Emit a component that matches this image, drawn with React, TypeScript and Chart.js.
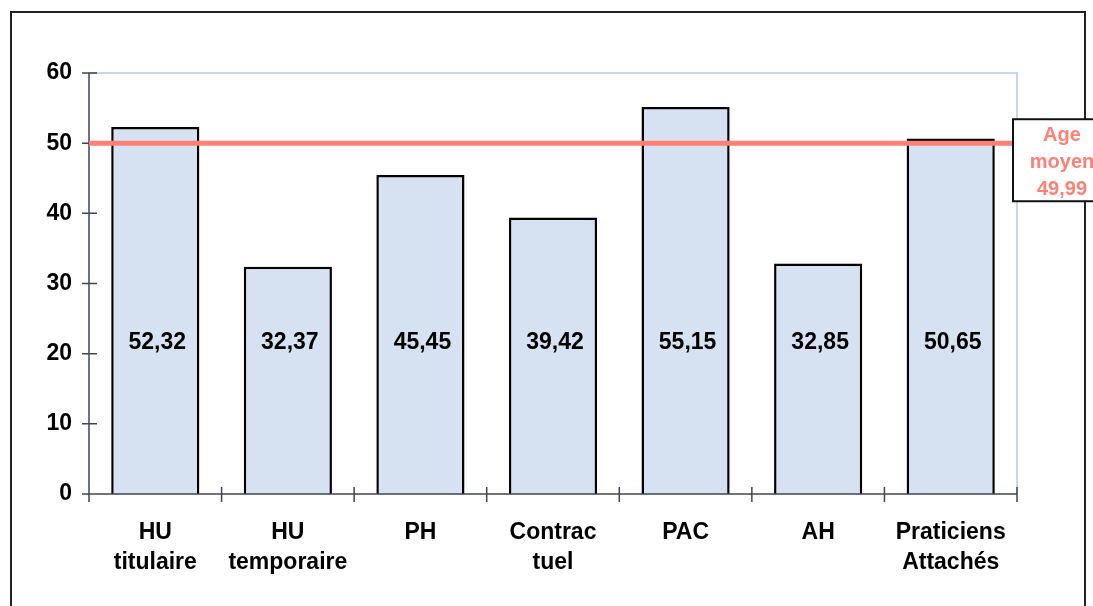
import React, { useEffect, useRef } from 'react';
import { Chart, registerables } from 'chart.js';

Chart.register(...registerables);

// ---- data ----
const categories: string[][] = [
  ['HU', 'titulaire'],
  ['HU', 'temporaire'],
  ['PH'],
  ['Contrac', 'tuel'],
  ['PAC'],
  ['AH'],
  ['Praticiens', 'Attachés'],
];
const ages: number[] = [52.32, 32.37, 45.45, 39.42, 55.15, 32.85, 50.65];
const averageAge = 49.99;
const averageLabel: string[] = ['Age', 'moyen', '49,99'];
const yMin = 0;
const yMax = 60;
const yStep = 10;

// ---- styles ----
const FONT = "'Liberation Sans', Arial, Helvetica, sans-serif";
const BAR_FILL = '#D6E2F1';
const SALMON = '#FF8075';
const AXIS = '#3E4656';
const PLOT_BORDER = '#C6D6EC';
const LABEL_LEVEL = 21.5; // value level at which value labels sit

const fmt = (v: number) => v.toFixed(2).replace('.', ',');

const decorPlugin = {
  id: 'decor',
  beforeDraw(chart: any) {
    const { ctx, width, height } = chart;
    ctx.save();
    ctx.fillStyle = '#ffffff';
    ctx.fillRect(0, 0, width, height);
    ctx.strokeStyle = '#222222';
    ctx.lineWidth = 2;
    ctx.strokeRect(11, 12, width - 8 - 11 - 0, height + 20);
    ctx.restore();
  },
  beforeDatasetsDraw(chart: any) {
    const { ctx, chartArea } = chart;
    ctx.save();
    ctx.strokeStyle = PLOT_BORDER;
    ctx.lineWidth = 2;
    ctx.beginPath();
    ctx.moveTo(chartArea.left, chartArea.top);
    ctx.lineTo(chartArea.right, chartArea.top);
    ctx.lineTo(chartArea.right, chartArea.bottom);
    ctx.stroke();
    ctx.restore();
  },
  afterDatasetsDraw(chart: any) {
    const { ctx, chartArea, scales } = chart;
    const xs = scales.x;
    const ys = scales.y;
    ctx.save();

    // axes
    ctx.strokeStyle = AXIS;
    ctx.lineWidth = 1.5;
    ctx.beginPath();
    ctx.moveTo(chartArea.left, chartArea.top);
    ctx.lineTo(chartArea.left, chartArea.bottom);
    ctx.lineTo(chartArea.right, chartArea.bottom);
    for (let v = yMin; v <= yMax; v += yStep) {
      const y = ys.getPixelForValue(v);
      ctx.moveTo(chartArea.left - 7, y);
      ctx.lineTo(chartArea.left + 8, y);
    }
    const n = categories.length;
    const cw = (chartArea.right - chartArea.left) / n;
    for (let i = 0; i <= n; i++) {
      const x = chartArea.left + i * cw;
      ctx.moveTo(x, chartArea.bottom - 7);
      ctx.lineTo(x, chartArea.bottom + 8);
    }
    ctx.stroke();

    // value labels
    ctx.fillStyle = '#000000';
    ctx.font = `bold 23px ${FONT}`;
    ctx.textAlign = 'center';
    ctx.textBaseline = 'middle';
    const ly = ys.getPixelForValue(LABEL_LEVEL);
    ages.forEach((v, i) => {
      ctx.fillText(fmt(v), xs.getPixelForValue(i) + 2, ly);
    });

    // average line
    const ay = ys.getPixelForValue(averageAge);
    const boxLeft = chartArea.right - 4;
    ctx.strokeStyle = SALMON;
    ctx.lineWidth = 5;
    ctx.beginPath();
    ctx.moveTo(chartArea.left, ay);
    ctx.lineTo(boxLeft, ay);
    ctx.stroke();

    // average label box
    const boxTop = ay - 24;
    const boxW = 96;
    const boxH = 82;
    ctx.fillStyle = '#ffffff';
    ctx.fillRect(boxLeft, boxTop, boxW, boxH);
    ctx.strokeStyle = '#111111';
    ctx.lineWidth = 2;
    ctx.strokeRect(boxLeft, boxTop, boxW, boxH);
    ctx.fillStyle = SALMON;
    ctx.font = `bold 20px ${FONT}`;
    averageLabel.forEach((t, i) => {
      ctx.fillText(t, boxLeft + 49, boxTop + 16 + i * 27);
    });
    ctx.restore();
  },
};

export default function App() {
  const ref = useRef<HTMLCanvasElement | null>(null);
  useEffect(() => {
    if (!ref.current) return;
    const chart = new Chart(ref.current, {
      type: 'bar',
      data: {
        labels: categories,
        datasets: [
          {
            data: ages,
            backgroundColor: BAR_FILL,
            borderColor: '#000000',
            borderWidth: 2.5,
            categoryPercentage: 1,
            barPercentage: 0.665,
          },
        ],
      },
      options: {
        animation: false,
        responsive: true,
        maintainAspectRatio: false,
        layout: { padding: { top: 73, right: 76, left: 0, bottom: 0 } },
        plugins: {
          legend: { display: false },
          tooltip: { enabled: false },
        },
        scales: {
          x: {
            grid: { display: false },
            border: { display: false },
            ticks: {
              color: '#000000',
              padding: 16,
              maxRotation: 0,
              autoSkip: false,
              font: { family: FONT, size: 23, weight: 'bold', lineHeight: 1.3 },
            },
            afterFit: (s: any) => {
              s.height = 112;
            },
          },
          y: {
            min: yMin,
            max: yMax,
            grid: { display: false },
            border: { display: false },
            ticks: {
              stepSize: yStep,
              color: '#000000',
              padding: 9,
              font: { family: FONT, size: 23, weight: 'bold' },
            },
            afterFit: (s: any) => {
              s.width = 89;
            },
          },
        },
      },
      plugins: [decorPlugin],
    });
    return () => chart.destroy();
  }, []);
  return (
    <div style={{ position: 'absolute', left: 0, top: 0, width: 1093, height: 606 }}>
      <canvas ref={ref} />
    </div>
  );
}
